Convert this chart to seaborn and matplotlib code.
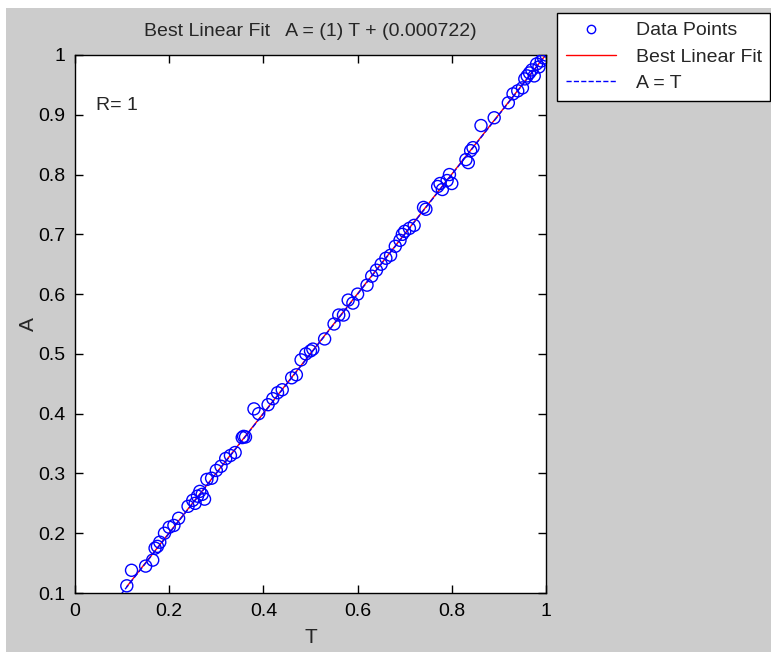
import numpy as np
import pandas as pd
import matplotlib.pyplot as plt
import seaborn as sns
from matplotlib.patches import Rectangle
from matplotlib.lines import Line2D

# Targets (T) and network outputs (A)
targets = [0.110, 0.120, 0.150, 0.165, 0.170, 0.175, 0.180, 0.190, 0.200, 0.210,
           0.220, 0.240, 0.250, 0.255, 0.260, 0.265, 0.270, 0.275, 0.280, 0.290,
           0.300, 0.310, 0.320, 0.330, 0.340, 0.355, 0.358, 0.362, 0.380, 0.390,
           0.410, 0.420, 0.430, 0.440, 0.460, 0.470, 0.480, 0.490, 0.500, 0.505,
           0.530, 0.550, 0.560, 0.570, 0.580, 0.590, 0.600, 0.620, 0.630, 0.640,
           0.650, 0.660, 0.670, 0.680, 0.690, 0.695, 0.700, 0.710, 0.720, 0.740,
           0.745, 0.770, 0.775, 0.780, 0.790, 0.795, 0.800, 0.830, 0.835, 0.840,
           0.845, 0.862, 0.890, 0.920, 0.930, 0.940, 0.950, 0.955, 0.960, 0.965,
           0.970, 0.975, 0.980, 0.985, 0.990, 0.995, 1.000]
outputs = [0.112, 0.138, 0.145, 0.155, 0.175, 0.178, 0.185, 0.200, 0.210, 0.213,
           0.225, 0.245, 0.255, 0.250, 0.262, 0.270, 0.265, 0.257, 0.290, 0.292,
           0.305, 0.312, 0.325, 0.330, 0.335, 0.360, 0.362, 0.361, 0.408, 0.400,
           0.415, 0.425, 0.435, 0.440, 0.460, 0.465, 0.490, 0.500, 0.505, 0.508,
           0.525, 0.550, 0.565, 0.565, 0.590, 0.585, 0.600, 0.615, 0.630, 0.640,
           0.650, 0.660, 0.665, 0.680, 0.690, 0.700, 0.705, 0.710, 0.715, 0.745,
           0.742, 0.780, 0.785, 0.775, 0.790, 0.800, 0.785, 0.825, 0.820, 0.840,
           0.845, 0.882, 0.895, 0.920, 0.935, 0.940, 0.945, 0.960, 0.965, 0.970,
           0.975, 0.965, 0.985, 0.980, 0.990, 0.995, 1.000]
slope = 1.0
intercept = 0.000722
r_value = 1

sns.set_style("ticks")
plt.rcParams['font.family'] = ['Liberation Sans Narrow', 'Liberation Sans', 'DejaVu Sans']

df = pd.DataFrame({'T': targets, 'A': outputs})

fig = plt.figure(figsize=(7.71, 6.52), dpi=100, facecolor='white')
# MATLAB style grey figure panel
fig.patches.append(Rectangle((6 / 771, 0), 1, 1 - 8 / 652, transform=fig.transFigure,
                             facecolor='#cccccc', edgecolor='none', zorder=-1))

ax = fig.add_axes([75 / 771, 1 - 593 / 652, 471 / 771, 538 / 652])
ax.set_facecolor('white')

sns.scatterplot(data=df, x='T', y='A', ax=ax, marker='o', s=75,
                facecolor='none', edgecolor='blue', linewidth=1.0, zorder=3)

# best linear fit over the data range
fit_t = np.array([min(targets), max(targets)])
sns.lineplot(x=fit_t, y=slope * fit_t + intercept, ax=ax, color='red', linewidth=1.0, zorder=2)
# A = T reference
ref_t = np.array([0.0, 1.0])
sns.lineplot(x=ref_t, y=ref_t, ax=ax, color='blue', linestyle='--', linewidth=1.0, zorder=2)

ax.set_xlim(0, 1)
ax.set_ylim(0.1, 1)
ax.set_xticks(np.arange(0, 1.01, 0.2))
ax.set_xticklabels(['0', '0.2', '0.4', '0.6', '0.8', '1'])
ax.set_yticks(np.arange(0.1, 1.01, 0.1))
ax.set_yticklabels(['0.1', '0.2', '0.3', '0.4', '0.5', '0.6', '0.7', '0.8', '0.9', '1'])
ax.tick_params(direction='in', length=6, width=1, top=True, right=True,
               labelsize=14, colors='black', pad=7)
for s in ax.spines.values():
    s.set_visible(True)
    s.set_color('black')
    s.set_linewidth(1)

ax.set_xlabel('T', fontsize=15, labelpad=6)
ax.set_ylabel('A', fontsize=15, labelpad=0)
ax.set_title(f'Best Linear Fit   A = ({slope:g}) T + ({intercept:g})', fontsize=14, pad=14)
ax.text(0.045, 0.915, f'R= {r_value}', fontsize=14, ha='left', va='center')

handles = [
    Line2D([], [], marker='o', linestyle='none', markerfacecolor='none',
           markeredgecolor='blue', markersize=6),
    Line2D([], [], color='red', linewidth=1),
    Line2D([], [], color='blue', linestyle='--', linewidth=1),
]
leg = fig.legend(handles, ['Data Points', 'Best Linear Fit', 'A = T'],
                 loc='upper left',
                 bbox_to_anchor=(557 / 771, 1 - 102 / 652, 213 / 771, 89 / 652),
                 bbox_transform=fig.transFigure, mode='expand', fontsize=14,
                 frameon=True, fancybox=False, edgecolor='black', framealpha=1,
                 borderaxespad=0, borderpad=0.45, labelspacing=0.45,
                 handlelength=2.6, handletextpad=1.0)
leg.get_frame().set_linewidth(1)

fig.savefig('out.png', dpi=100, facecolor=fig.get_facecolor())
